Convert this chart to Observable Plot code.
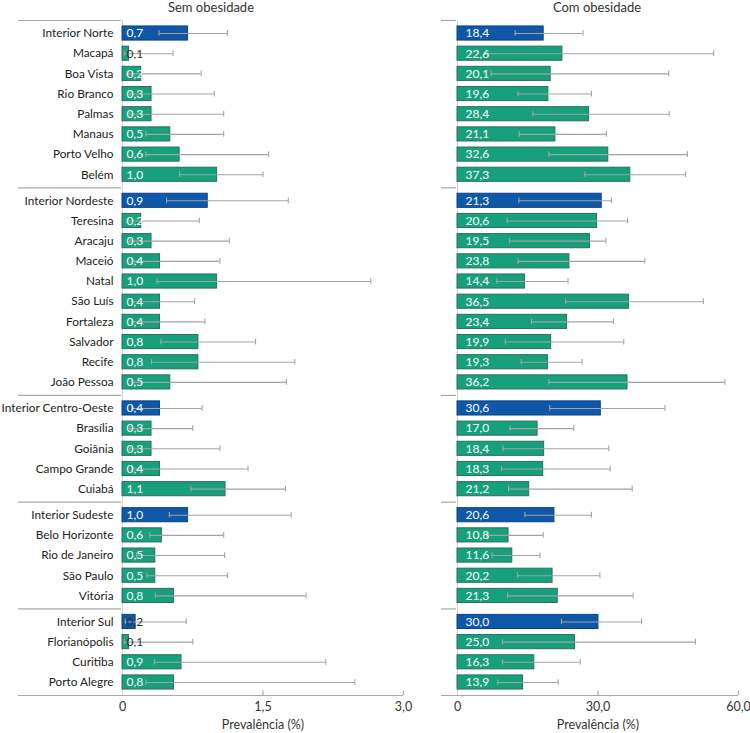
<!DOCTYPE html>
<html>
<head>
<meta charset="utf-8">
<script src="https://cdn.jsdelivr.net/npm/d3@7"></script>
<script src="https://cdn.jsdelivr.net/npm/@observablehq/plot@0.6"></script>
<style>
  html, body { margin: 0; padding: 0; background: #fff; }
  #wrap { position: relative; width: 750px; height: 733px; font-family: Lato, "Open Sans", sans-serif; }
  .title { position: absolute; top: 0; font-size: 13px; line-height: 14px; color: #333; transform: translateX(-50%); white-space: nowrap; }
  .panel { position: absolute; top: 14px; }
  .panel svg { overflow: visible; }
</style>
</head>
<body>
<div id="wrap">
  <div class="title" style="left:211px">Sem obesidade</div>
  <div class="title" style="left:597px">Com obesidade</div>
  <div class="panel" id="left" style="left:0px"></div>
  <div class="panel" id="right" style="left:410px"></div>
</div>
<script>
// ---- data ----
const localidades = [
  "Interior Norte","Macapá","Boa Vista","Rio Branco","Palmas","Manaus","Porto Velho","Belém",
  "Interior Nordeste","Teresina","Aracaju","Maceió","Natal","São Luís","Fortaleza","Salvador","Recife","João Pessoa",
  "Interior Centro-Oeste","Brasília","Goiânia","Campo Grande","Cuiabá",
  "Interior Sudeste","Belo Horizonte","Rio de Janeiro","São Paulo","Vitória",
  "Interior Sul","Florianópolis","Curitiba","Porto Alegre"
];
const grupo = [0,0,0,0,0,0,0,0, 1,1,1,1,1,1,1,1,1,1, 2,2,2,2,2, 3,3,3,3,3, 4,4,4,4];

// Sem obesidade
const semValor = [0.7,0.1,0.2,0.3,0.3,0.5,0.6,1.0, 0.9,0.2,0.3,0.4,1.0,0.4,0.4,0.8,0.8,0.5, 0.4,0.3,0.3,0.4,1.1, 1.0,0.6,0.5,0.5,0.8, 0.2,0.1,0.9,0.8];
const semBarra = [0.70,0.07,0.20,0.31,0.31,0.51,0.61,1.01, 0.91,0.20,0.31,0.40,1.01,0.40,0.40,0.81,0.81,0.51, 0.40,0.31,0.31,0.40,1.10, 0.70,0.42,0.35,0.35,0.55, 0.14,0.07,0.63,0.55];
const semInf = [0.39,0.02,0.05,0.08,0.08,0.25,0.25,0.61, 0.47,0.05,0.08,0.10,0.37,0.10,0.10,0.41,0.31,0.10, 0.10,0.08,0.08,0.10,0.73, 0.50,0.29,0.15,0.26,0.35, 0.03,0.02,0.34,0.25];
const semSup = [1.12,0.54,0.84,0.98,1.08,1.08,1.56,1.50, 1.77,0.82,1.14,1.04,2.65,0.77,0.88,1.42,1.84,1.75, 0.85,0.75,1.04,1.34,1.74, 1.80,1.08,1.09,1.12,1.96, 0.68,0.75,2.17,2.48];

// Com obesidade
const comValor = [18.4,22.6,20.1,19.6,28.4,21.1,32.6,37.3, 21.3,20.6,19.5,23.8,14.4,36.5,23.4,19.9,19.3,36.2, 30.6,17.0,18.4,18.3,21.2, 20.6,10.8,11.6,20.2,21.3, 30.0,25.0,16.3,13.9];
const comBarra = [18.4,22.4,19.9,19.4,28.1,20.9,32.2,36.9, 30.8,29.8,28.3,23.9,14.4,36.6,23.4,20.0,19.3,36.3, 30.6,17.1,18.5,18.3,15.3, 20.7,10.9,11.7,20.3,21.4, 30.1,25.1,16.4,14.0];
const comInf = [12.3,6.5,7.2,12.9,16.1,13.2,19.5,27.2, 13.1,10.6,11.1,12.9,8.4,23.1,15.8,10.2,13.6,19.5, 19.7,11.2,9.7,9.4,10.9, 14.4,6.3,7.4,12.8,10.7, 22.2,9.6,9.6,8.6];
const comSup = [26.8,54.7,45.1,28.6,45.2,31.8,49.1,48.7, 32.9,36.3,31.7,40.0,23.6,52.5,33.3,35.5,26.6,57.1, 44.3,24.8,32.3,32.6,37.3, 28.6,18.3,17.6,30.4,37.5, 39.3,50.8,26.2,21.5];

const xTicksSem = [0, 1.5, 3.0];
const xTicksCom = [0, 30, 60];

// ---- layout helpers (row positions in row units) ----
const gapExtra = 0.29;
const pad = (1 + gapExtra) / 2;
const pos = localidades.map((d, i) => i + grupo[i] * gapExtra);
const yTop = pos[0] - pad;
const yBottom = pos[pos.length - 1] + pad;
const separadores = [yTop];
for (let i = 1; i < pos.length; i++) if (grupo[i] !== grupo[i - 1]) separadores.push((pos[i - 1] + pos[i]) / 2);
const nomePorPos = new Map(pos.map((p, i) => [p, localidades[i]]));

const fmt = v => (v === 0 ? "0" : v.toFixed(1).replace(".", ","));
const AZUL = "#0f57a7", VERDE = "#17a07c";

function tabela(valor, barra, inf, sup) {
  return localidades.map((nome, i) => ({
    nome, pos: pos[i], valor: valor[i], barra: barra[i], inf: inf[i], sup: sup[i],
    interior: nome.startsWith("Interior")
  }));
}

function painel({rows, xTicks, width, marginLeft, marginRight, showNames, sepInset, darkBelow, textDx}) {
  const H = 719, mT = 6, mB = 38;
  const plotW = width - marginLeft - marginRight;
  const xMax = xTicks[xTicks.length - 1];
  return Plot.plot({
    width, height: H, marginTop: mT, marginBottom: mB, marginLeft, marginRight,
    style: {fontFamily: "Lato, 'Open Sans', sans-serif", fontSize: "12px", color: "#222", background: "transparent", overflow: "visible"},
    x: {domain: [0, xMax]},
    y: {domain: [yBottom, yTop]},
    marks: [
      Plot.ruleX([0], {y1: yTop, y2: yBottom, stroke: "#d0d0d0", strokeWidth: 1}),
      Plot.ruleY(separadores, {stroke: "#a8a8a8", strokeWidth: 1.2, insetLeft: -sepInset, insetRight: plotW + 1}),
      Plot.ruleY([yBottom], {stroke: "#a8a8a8", strokeWidth: 1.2, insetLeft: -sepInset}),
      Plot.ruleX(xTicks.slice(1), {y1: yBottom, y2: yBottom - 0.22, stroke: "#a8a8a8", strokeWidth: 1.2}),
      Plot.rect(rows, {
        x1: 0, x2: "barra",
        y1: d => d.pos - 0.35, y2: d => d.pos + 0.35,
        fill: d => d.interior ? AZUL : VERDE,
        stroke: d => d.interior ? "#0b4488" : "#2d6e60",
        strokeWidth: 1
      }),
      Plot.ruleY(rows, {y: "pos", x1: "inf", x2: "sup", stroke: "#a3a3a3", strokeWidth: 1.1}),
      Plot.ruleX(rows, {x: "inf", y1: d => d.pos - 0.14, y2: d => d.pos + 0.14, stroke: "#a3a3a3", strokeWidth: 1.1}),
      Plot.ruleX(rows, {x: "sup", y1: d => d.pos - 0.14, y2: d => d.pos + 0.14, stroke: "#a3a3a3", strokeWidth: 1.1}),
      Plot.text(rows, {
        x: 0, y: "pos", text: d => fmt(d.valor), textAnchor: "start", dx: textDx,
        fill: d => d.barra < darkBelow ? "#333" : "white", fontSize: 12
      }),
      Plot.axisX({ticks: xTicks, tickFormat: fmt, tickSize: 0, tickPadding: 7, fontSize: 12.5, color: "#333", label: null}),
      Plot.text(["Prevalência (%)"], {frameAnchor: "bottom", lineAnchor: "bottom", dy: 33, fontSize: 12.5, fill: "#333"}),
      showNames
        ? Plot.axisY({ticks: pos, tickFormat: p => nomePorPos.get(p), tickSize: 0, tickPadding: 9, fontSize: 11.8, color: "#222", label: null})
        : Plot.axisY({ticks: [], label: null, tickSize: 0})
    ]
  });
}

document.getElementById("left").append(painel({
  rows: tabela(semValor, semBarra, semInf, semSup),
  xTicks: xTicksSem, width: 410, marginLeft: 122, marginRight: 7,
  showNames: true, sepInset: 104, darkBelow: 0.15, textDx: 4
}));
document.getElementById("right").append(painel({
  rows: tabela(comValor, comBarra, comInf, comSup),
  xTicks: xTicksCom, width: 340, marginLeft: 47, marginRight: 12,
  showNames: false, sepInset: 16, darkBelow: 3, textDx: 8
}));
</script>
</body>
</html>
